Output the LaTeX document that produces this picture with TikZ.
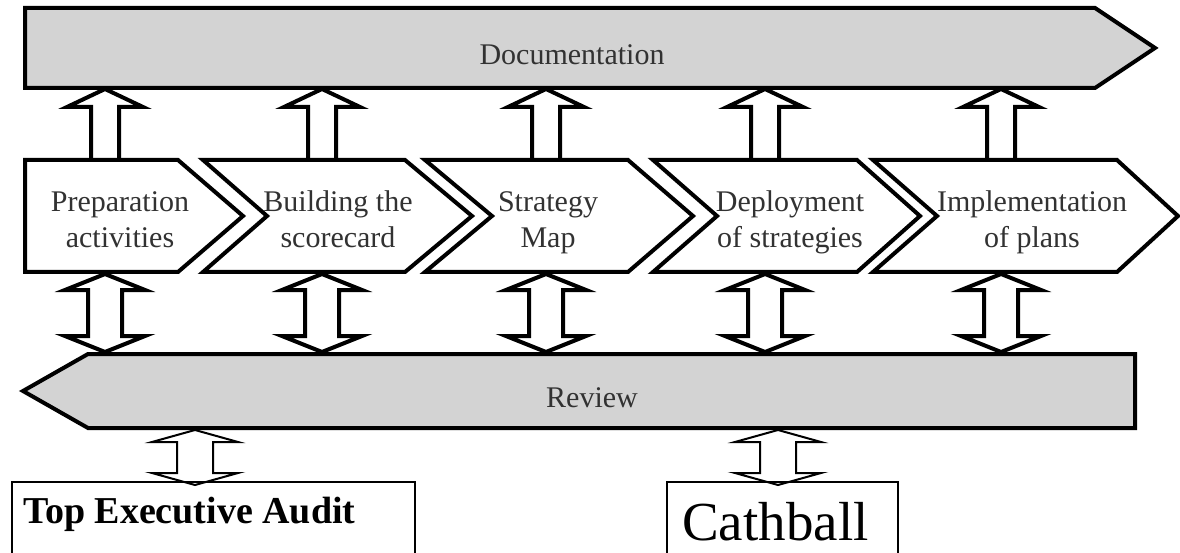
\documentclass[tikz,border=0pt]{standalone}
\usepackage{fontspec}
\setmainfont{Liberation Serif}
\usetikzlibrary{calc}
\definecolor{bannergray}{RGB}{211,211,211}
\definecolor{textgray}{RGB}{50,50,50}
% hollow arrow pointing up: (bottom centre)(shaft half width:head half width:head length:total length)
\def\uparr[#1](#2)(#3:#4:#5:#6){\draw[#1] ($(#2)+(-#3,0)$) -- ++(0,{-(#6-#5)}) -- ++({-(#4-#3)},0) -- ++(#4,-#5) -- ++(#4,#5) -- ++({-(#4-#3)},0) -- ++(0,{#6-#5});}
% hollow double arrow: (top tip)(shaft half width:head half width:head length:total length)
\def\dblarr[#1](#2)(#3:#4:#5:#6){\draw[#1] (#2) -- ++(#4,#5) -- ++({-(#4-#3)},0) -- ++(0,{#6-2*#5}) -- ++({#4-#3},0) -- ++(-#4,#5) -- ++(-#4,-#5) -- ++({#4-#3},0) -- ++(0,{-(#6-2*#5)}) -- ++({-(#4-#3)},0) -- cycle;}

\begin{document}
\begin{tikzpicture}[x=1pt, y=-1pt,
	banner/.style={draw, line width=4pt, fill=bannergray, line join=miter},
	chevron/.style={draw, line width=4pt, fill=white, line join=miter},
	blockarr/.style={line width=4pt, line join=miter},
	thinarr/.style={line width=2pt, line join=miter},
	steptext/.style={align=center, text=textgray, inner sep=0pt, anchor=base,
		font=\fontsize{30}{36}\selectfont},
	boxtext/.style={inner sep=0pt, anchor=base west}]
			%%%%% START %%%%%
			\useasboundingbox (0,0) rectangle (1180,553);
			
			\draw[banner] (25,8) -- (1095,8) -- (1155,48) -- (1095,88) -- (25,88) -- cycle;
			\node[steptext] (doc) at (572,65) {Documentation};
			
			\draw[chevron] (25,160) -- (178,160) -- (243,216) -- (178,272) -- (25,272) -- cycle;
			\draw[chevron] (203,160) -- (405,160) -- (472,216) -- (405,272) -- (203,272) -- (267,216) -- cycle;
			\draw[chevron] (425,160) -- (628,160) -- (693,216) -- (628,272) -- (425,272) -- (492,216) -- cycle;
			\draw[chevron] (653,160) -- (857,160) -- (920,216) -- (857,272) -- (653,272) -- (717,216) -- cycle;
			\draw[chevron] (873,160) -- (1117,160) -- (1178,216) -- (1117,272) -- (873,272) -- (937,216) -- cycle;
			
			% base anchor sits on the last line
			\node[steptext] (prep) at (120,248) {Preparation\\activities};
			\node[steptext] (build) at (338,248) {Building the\\scorecard};
			\node[steptext] (smap) at (548,248) {Strategy\\Map};
			\node[steptext] (deploy) at (790,248) {Deployment\\of strategies};
			\node[steptext] (impl) at (1032,248) {Implementation\\of plans};
			
			\draw[banner] (88,354) -- (1135,354) -- (1135,428) -- (88,428) -- (23,391) -- cycle;
			\node[steptext] (review) at (592,407) {Review};
			
			\foreach \x [count=\i] in {105,322,546,765,1001} {
				\coordinate (top\i) at (\x,160);
				\coordinate (mid\i) at (\x,274);
				\uparr[blockarr](top\i)(14:38:18:71)
				\dblarr[blockarr](mid\i)(17:40:16:78)
			}
			
			\coordinate (low1) at (195,430);
			\coordinate (low2) at (778,430);
			\dblarr[thinarr](low1)(18:43:12:55)
			\dblarr[thinarr](low2)(18:43:12:55)
			
			\draw[line width=1.5pt] (12,553) -- (12,482) -- (415,482) -- (415,553);
			\node[boxtext, font=\fontsize{38}{40}\selectfont\bfseries] (tea) at (23,523) {Top Executive Audit};
			
			\draw[line width=1.5pt] (667,553) -- (667,482) -- (898,482) -- (898,553);
			\node[boxtext, font=\fontsize{55}{60}\selectfont] (cath) at (682,540) {Cathball};
			
			%%%%% END %%%%%
\end{tikzpicture}
\end{document}
